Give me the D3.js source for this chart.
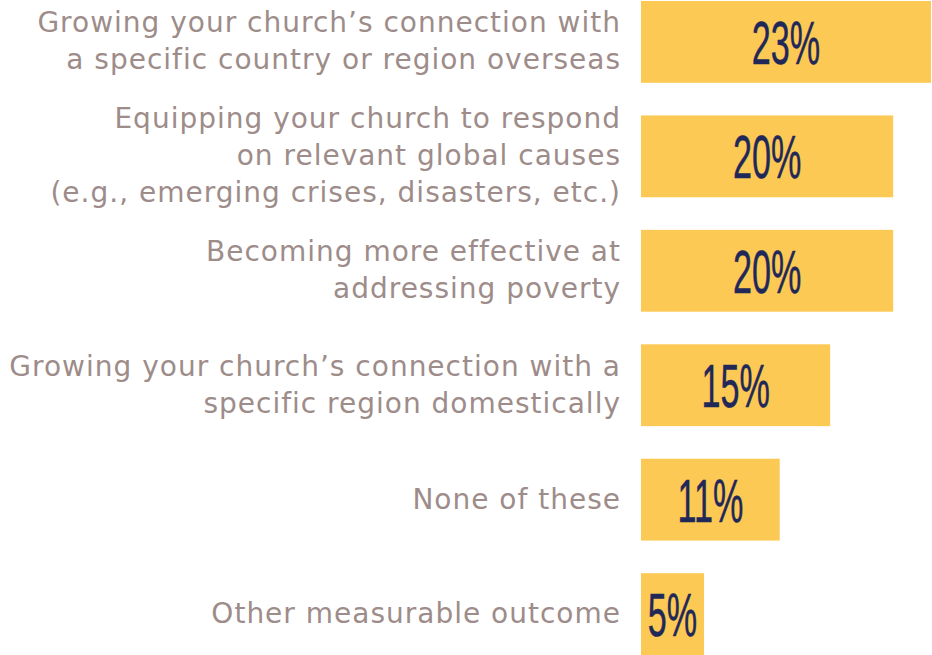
<!DOCTYPE html>
<html>
<head>
<meta charset="utf-8">
<script src="https://cdn.jsdelivr.net/npm/d3@7"></script>
<style>
  html, body { margin: 0; padding: 0; background: #fff; }
</style>
</head>
<body>
<div id="chart"></div>
<script>
// answer categories (split into the lines shown on the chart)
const categories = [
  ["Growing your church\u2019s connection with", "a specific country or region overseas"],
  ["Equipping your church to respond", "on relevant global causes", "(e.g., emerging crises, disasters, etc.)"],
  ["Becoming more effective at", "addressing poverty"],
  ["Growing your church\u2019s connection with a", "specific region domestically"],
  ["None of these"],
  ["Other measurable outcome"]
];
const values = [23, 20, 20, 15, 11, 5];

const width = 932;
const height = 655;
const barLeft = 641;
const labelRight = 621;
const lineHeight = 37;

const data = categories.map((lines, i) => ({ id: i, lines, value: values[i] }));

const svg = d3.select("#chart")
  .append("svg")
  .attr("width", width)
  .attr("height", height);

const x = d3.scaleLinear()
  .domain([0, 23])
  .range([barLeft, barLeft + 290]);

const y = d3.scaleBand()
  .domain(data.map(d => d.id))
  .range([1, height])
  .paddingInner(0.285)
  .paddingOuter(0);

// bars
svg.append("g")
  .attr("fill", "#fcc954")
  .selectAll("rect")
  .data(data)
  .join("rect")
  .attr("x", x(0))
  .attr("y", d => y(d.id))
  .attr("width", d => x(d.value) - x(0))
  .attr("height", y.bandwidth());

// value labels (tall condensed numbers)
svg.append("g")
  .attr("fill", "#1f2858")
  .attr("stroke", "#1f2858")
  .attr("stroke-width", 0.5)
  .attr("text-anchor", "middle")
  .style("font-family", "'Liberation Sans', Arial, sans-serif")
  .style("font-size", "61px")
  .selectAll("text")
  .data(data)
  .join("text")
  .attr("transform", d => `translate(${(x(0) + x(d.value)) / 2},${y(d.id) + y.bandwidth() / 2}) scale(0.56,1)`)
  .attr("dy", "0.36em")
  .text(d => d.value + "%");

// category labels
const labels = svg.append("g")
  .attr("fill", "#9d8c89")
  .attr("text-anchor", "end")
  .style("font-family", "'DejaVu Sans', sans-serif")
  .style("font-size", "28px")
  .style("letter-spacing", "1px")
  .selectAll("text")
  .data(data)
  .join("text")
  .attr("x", labelRight)
  .attr("y", d => y(d.id) + y.bandwidth() / 2);

labels.selectAll("tspan")
  .data(d => d.lines.map((t, i) => ({ t, i, n: d.lines.length })))
  .join("tspan")
  .attr("x", labelRight)
  .attr("dy", d => d.i === 0 ? (-(d.n - 1) / 2 * lineHeight + 9) : lineHeight)
  .text(d => d.t);
</script>
</body>
</html>
